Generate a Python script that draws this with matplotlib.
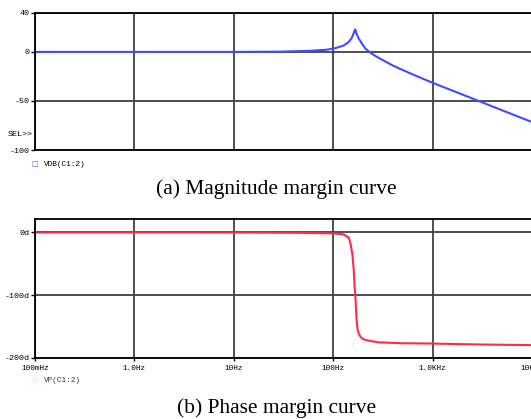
import matplotlib
matplotlib.use("Agg")
import matplotlib.pyplot as plt

# magnitude curve VDB(C1:2)
mag_freq = [0.1, 1, 10, 30, 60, 85, 105, 127, 143, 153, 158, 163, 167,
            171, 180, 196, 211, 227, 264, 317, 400, 600, 1000, 2000, 5000, 10000]
mag_db = [0, 0, 0.02, 0.3, 1.2, 2.2, 3.8, 6.5, 10, 14, 17, 21, 23,
          19, 14, 8, 3.5, 0.5, -4, -8.5, -14, -22, -31.5, -43.5, -59.5, -71.5]

# phase curve VP(C1:2)
ph_freq = [0.1, 1, 10, 50, 100, 127, 143, 149, 156, 161, 164, 167, 169,
           172, 176, 182, 188, 200, 222, 282, 500, 1000, 3000, 10000]
ph_deg = [0, 0, -0.1, -0.6, -1.5, -3, -8, -17, -35, -60, -85, -100, -118,
          -140, -155, -162, -166, -170, -172, -175, -176.5, -177, -178.5, -179.5]

xticks = [0.1, 1, 10, 100, 1000, 10000]
xlabels = ["100mHz", "1.0Hz", "10Hz", "100Hz", "1.0KHz", "10KHz"]
mag_ticks = [40, 0, -50, -100]
ph_ticks = [0, -100, -200]
ph_labels = ["0d", "-100d", "-200d"]

mono = "Liberation Mono"
grid_c = "#404040"

fig = plt.figure(figsize=(5.31, 4.19), dpi=100)
ax1 = fig.add_axes([0.0659, 0.642, 0.936, 0.3277])
ax2 = fig.add_axes([0.0659, 0.1456, 0.936, 0.331])

for ax in (ax1, ax2):
    ax.set_xscale("log")
    ax.set_xlim(0.1, 10000)
    ax.set_xticks(xticks)
    ax.minorticks_off()
    for s in ax.spines.values():
        s.set_color("black")
        s.set_linewidth(1.3)
    ax.grid(True, color=grid_c, linewidth=1.3)
    ax.tick_params(direction="out", length=3, width=1, color="black", pad=1)

ax1.plot(mag_freq, mag_db, color="#3f4cff", linewidth=1.5)
ax1.set_ylim(-100, 40)
ax1.set_yticks(mag_ticks)
ax1.set_yticklabels([str(t) for t in mag_ticks], fontfamily=mono, fontsize=6)
ax1.set_xticklabels([])
ax1.tick_params(axis="x", length=0)
ax1.text(-0.005, 0.11, "SEL>>", transform=ax1.transAxes, ha="right", va="center",
         fontfamily=mono, fontsize=6)

ax2.plot(ph_freq, ph_deg, color="#ff2a4a", linewidth=1.5)
ax2.set_ylim(-200, 21)
ax2.set_yticks(ph_ticks)
ax2.set_yticklabels(ph_labels, fontfamily=mono, fontsize=6)
ax2.set_xticklabels(xlabels, fontfamily=mono, fontsize=5.6)
ax2.tick_params(axis="x", length=2, pad=3)

# legends
fig.text(0.066, 0.608, "\u25a1", color="#4455ff", fontsize=5, ha="center", va="center")
fig.text(0.083, 0.608, "VDB(C1:2)", fontfamily=mono, fontsize=5.6, va="center")
fig.text(0.066, 0.093, "\u25c7", color="#ffaacc", fontsize=5, ha="center", va="center")
fig.text(0.083, 0.093, "VP(C1:2)", fontfamily=mono, fontsize=5.6, va="center", color="#333333")

# captions
fig.text(0.52, 0.549, "(a) Magnitude margin curve", fontfamily="Liberation Serif",
         fontsize=15.4, ha="center", va="center")
fig.text(0.52, 0.026, "(b) Phase margin curve", fontfamily="Liberation Serif",
         fontsize=15.4, ha="center", va="center")

fig.savefig("out.png", dpi=100)
